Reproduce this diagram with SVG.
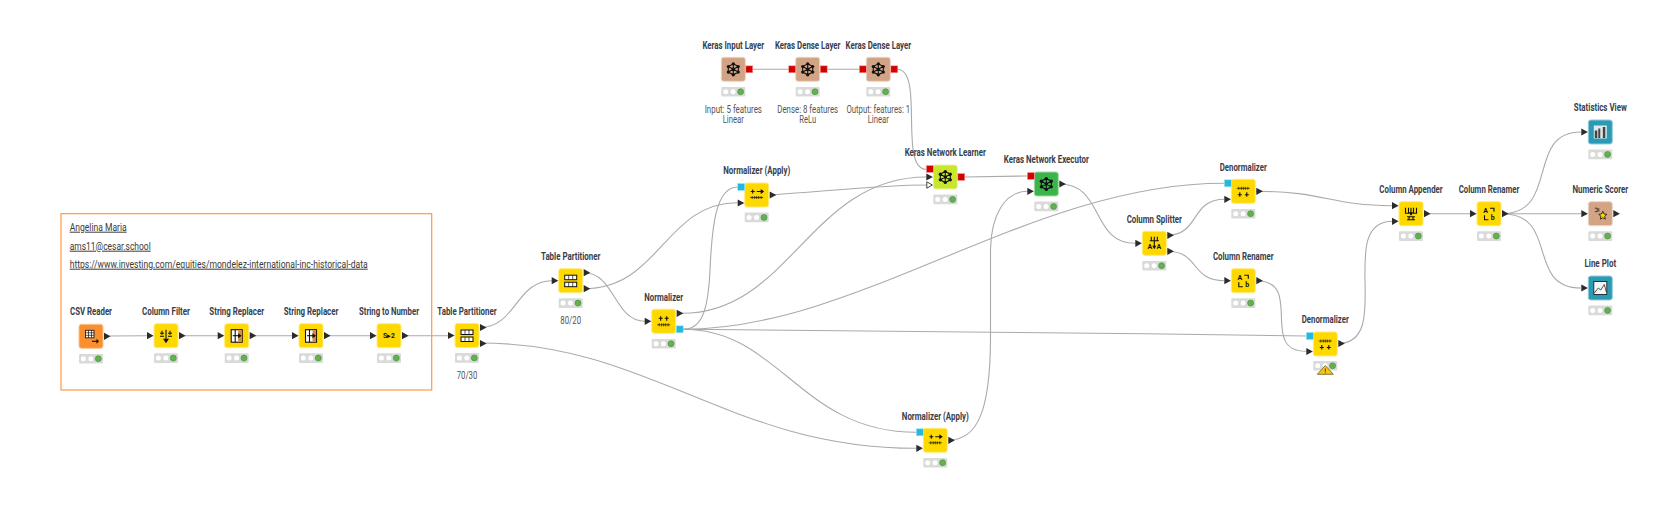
<svg xmlns="http://www.w3.org/2000/svg" xmlns:xlink="http://www.w3.org/1999/xlink" width="1670" height="512" viewBox="0 0 1670 512">
<style>
.bg{fill:#fff}
.conn path{fill:none;stroke:#aaa;stroke-width:1.1}
.body{stroke-width:1;rx:2.5;ry:2.5}
.y{fill:#ffd800;stroke:#ffec7a}
.o{fill:#f98f2d;stroke:#fdc48c}
.t{fill:#d2a384;stroke:#ecd4c4}
.l{fill:#c9e52e;stroke:#e6f49a}
.g{fill:#3cb44b;stroke:#9fdca6}
.b{fill:#2a9ab5;stroke:#95cdda}
.lab{font:700 10px Roboto,"Liberation Sans",sans-serif;fill:#37404a;text-anchor:middle}
.ann{font:400 10px Roboto,"Liberation Sans",sans-serif;fill:#555;text-anchor:middle}
.note{font:400 10px Roboto,"Liberation Sans",sans-serif;fill:#3a3a3a;text-decoration:underline}
.ico{fill:none;stroke:#111;stroke-width:1.1}
.icn{fill:none;stroke:#111;stroke-width:.7}
.icf{fill:#111;stroke:none}
.ict{font:700 7px Roboto,"Liberation Sans",sans-serif;fill:#111;text-anchor:middle}
</style>
<defs>
<polygon id="arr" points="0,-3.6 6.6,0 0,3.6" fill="#2b2b2b"/>
<polygon id="arrw" points="0,-3.2 5.6,0 0,3.2" fill="#fff" stroke="#2b2b2b" stroke-width="0.9"/>
<rect id="bp" x="0" y="-3.5" width="7" height="7" fill="#22b9de" stroke="#a6e3f2" stroke-width="0.6"/>
<rect id="rp" x="0" y="-3.5" width="7" height="7" fill="#d40000" stroke="#f2a6a6" stroke-width="0.6"/>
<g id="st">
<rect x="0" y="0" width="24" height="9.6" rx="1" fill="#d9dbd9"/>
<circle cx="4.4" cy="4.8" r="2.5" fill="#fff"/>
<circle cx="11.8" cy="4.8" r="2.5" fill="#fff"/>
<circle cx="19.3" cy="4.8" r="3" fill="#62b350" stroke="#468a38" stroke-width="0.6"/>
</g>
<g id="ker">
<path class="ico" d="M12 6.5L17 9.2V14.8L12 17.5L7 14.8V9.2ZM12 6.5V17.5M7 9.2L17 14.8M17 9.2L7 14.8"/>
<g class="icf"><circle cx="12" cy="6.5" r="1.6"/><circle cx="17" cy="9.2" r="1.6"/><circle cx="17" cy="14.8" r="1.6"/><circle cx="12" cy="17.5" r="1.6"/><circle cx="7" cy="14.8" r="1.6"/><circle cx="7" cy="9.2" r="1.6"/><circle cx="12" cy="12" r="1.8"/></g>
</g>
<g id="tp">
<rect x="6" y="6.500" width="12" height="4.500" fill="#fff" stroke="#111" stroke-width="1"/>
<rect x="6" y="13.500" width="12" height="4.500" fill="#fff" stroke="#111" stroke-width="1"/>
<path class="icn" d="M10 6.500V11M14 6.500V11M10 13.500V18M14 13.500V18"/>
</g>
<g id="sr">
<rect x="6.500" y="6" width="11" height="12.500" fill="#fff" stroke="#111" stroke-width="1.1"/>
<rect x="13.500" y="6.500" width="3.600" height="11.500" fill="#d98b3a"/>
<path class="ico" d="M10.500 6V18.500"/>
<path class="ico" d="M8 12H14.500"/><polygon class="icf" points="13.500,9.500 17,12 13.500,14.500"/>
</g>
<g id="norm">
<path class="icn" d="M5.500 15.500H18.500M7.500 14V17M10 14V17M12 14V17M14 14V17M16.500 14V17"/>
<path class="ico" d="M9 7V11.500M7 9H11M15 7V11.500M13 9H17"/>
</g>
<g id="nap">
<path class="icn" d="M5.500 14.500H18.500M7.500 13V16M10 13V16M12 13V16M14 13V16M16.500 13V16"/>
<path class="ico" d="M8 6.500V10.500M6 8.500H10M12 8.500H17"/>
<polygon class="icf" points="16,6 19.500,8.500 16,11"/>
</g>
<g id="den">
<path class="icn" d="M5.500 9H18.500M7.500 7.500V10.500M10 7.500V10.500M12 7.500V10.500M14 7.500V10.500M16.500 7.500V10.500"/>
<path class="ico" d="M8.500 13V17.500M6.500 15.500H10.500M15.500 13V17.500M13.500 15.500H17.500"/>
</g>
</defs>
<rect class="bg" width="1670" height="512"/>

<g id="connectors" class="conn">
<path d="M110 336L147 335.700"/>
<path d="M179 335.700H217.700"/>
<path d="M249.700 335.700H292"/>
<path d="M324 335.700H370"/>
<path d="M402 335.700H448"/>
<path d="M480 327.500C516 327.500 516 280.700 552 280.700"/>
<path d="M480 343C650 343 730 448.300 916.300 448.300"/>
<path d="M584 272.700C615 272.700 614 321.300 645 321.300"/>
<path d="M584 288.700C660 288.700 665 202.700 737.700 202.700"/>
<path d="M682 313.300C790 313.300 810 177 926.500 177"/>
<path d="M683 329.300C700 329.300 708 315 710 270C712 225 716 187 737.700 187"/>
<path d="M683 329.300C860 329.300 1030 183.300 1224 183.300"/>
<path d="M683 329.300C900 330 1100 333 1306 336"/>
<path d="M683 329.300C780 329.300 800 432.300 916.300 432.300"/>
<path d="M769.700 195C820 192 880 185 926.500 185"/>
<path d="M948 440.300C978 440.300 990 410 990.500 340V250C991 215 1005 191.300 1027.500 191.300"/>
<path d="M745.300 69.300H795.700"/>
<path d="M819.700 69.300H866.300"/>
<path d="M897 69.300C925 69.300 898 169.300 926.300 169.300"/>
<path d="M964 177L1027 176"/>
<path d="M1059 184C1105 184 1090 243.300 1135.500 243.300"/>
<path d="M1167 235.300C1200 235.300 1190 199.300 1224.500 199.300"/>
<path d="M1167 251.300C1200 251.300 1190 280.700 1224.500 280.700"/>
<path d="M1256 191.300C1325 191.300 1330 205.700 1392.500 205.700"/>
<path d="M1256 280.700C1305 280.700 1258 351.300 1306 351.300"/>
<path d="M1338 343.500C1395 343.500 1335 221.300 1392.500 221.300"/>
<path d="M1424 213.700H1470"/>
<path d="M1502 213.700C1560 213.700 1525 132 1581 132"/>
<path d="M1502 213.700H1581"/>
<path d="M1502 213.700C1560 213.700 1525 288 1581 288"/>
</g>

<g id="annotation">
<rect x="61" y="213.700" width="370.700" height="176.300" fill="none" stroke="#ff9a3c" stroke-width="1.2"/>
<text class="note" x="69.700" y="230.700" textLength="57" lengthAdjust="spacingAndGlyphs">Angelina Maria</text>
<text class="note" x="69.700" y="249.700" textLength="81" lengthAdjust="spacingAndGlyphs">ams11@cesar.school</text>
<text class="note" x="69.700" y="267.700" textLength="298" lengthAdjust="spacingAndGlyphs">https://www.investing.com/equities/mondelez-international-inc-historical-data</text>
</g>

<g id="csv-reader" transform="translate(79,324.300)">
<rect class="body o" width="24" height="24"/>
<rect x="6.500" y="6" width="8.500" height="7.500" fill="#fff" stroke="#222" stroke-width="0.9"/><path class="icn" d="M6.500 8.500H15M6.500 11H15M9.500 6V13.500M12.500 6V13.500"/><path class="ico" d="M13 17H18"/><polygon class="icf" points="17.500,14.500 20,17 17.500,19.500"/>
<use href="#arr" x="25" y="12"/>
<use href="#st" y="29.600"/>
<text class="lab" x="12" y="-9" textLength="42" lengthAdjust="spacingAndGlyphs">CSV Reader</text>
</g>
<g id="column-filter" transform="translate(154,323.700)">
<rect class="body y" width="24" height="24"/>
<path class="ico" d="M6 9.500H10M6 12.500H10M14 9.500H18M14 12.500H18M8 7V11M16 7V11M12 6V16"/><polygon class="icf" points="9,15 15,15 12,19.500"/>
<use href="#arr" x="-7" y="12"/><use href="#arr" x="25" y="12"/>
<use href="#st" y="29.600"/>
<text class="lab" x="12" y="-8.700" textLength="48" lengthAdjust="spacingAndGlyphs">Column Filter</text>
</g>
<g id="string-replacer-1" transform="translate(224.700,323.700)">
<rect class="body y" width="24" height="24"/><use href="#sr"/>
<use href="#arr" x="-7" y="12"/><use href="#arr" x="25" y="12"/>
<use href="#st" y="29.600"/>
<text class="lab" x="12" y="-8.700" textLength="54.700" lengthAdjust="spacingAndGlyphs">String Replacer</text>
</g>
<g id="string-replacer-2" transform="translate(299,323.700)">
<rect class="body y" width="24" height="24"/><use href="#sr"/>
<use href="#arr" x="-7" y="12"/><use href="#arr" x="25" y="12"/>
<use href="#st" y="29.600"/>
<text class="lab" x="12" y="-8.700" textLength="54.700" lengthAdjust="spacingAndGlyphs">String Replacer</text>
</g>
<g id="string-to-number" transform="translate(377,323.700)">
<rect class="body y" width="24" height="24"/>
<text class="ict" x="12" y="14.800" textLength="12" lengthAdjust="spacingAndGlyphs">S▸2</text>
<use href="#arr" x="-7" y="12"/><use href="#arr" x="25" y="12"/>
<use href="#st" y="29.600"/>
<text class="lab" x="12" y="-8.700" textLength="60" lengthAdjust="spacingAndGlyphs">String to Number</text>
</g>
<g id="table-partitioner-1" transform="translate(455,323.500)">
<rect class="body y" width="24" height="24"/><use href="#tp"/>
<use href="#arr" x="-7" y="12"/><use href="#arr" x="25" y="4"/><use href="#arr" x="25" y="20"/>
<use href="#st" y="29.600"/>
<text class="lab" x="12" y="-8.700" textLength="59.300" lengthAdjust="spacingAndGlyphs">Table Partitioner</text>
<text class="ann" x="12" y="55.200" textLength="20.700" lengthAdjust="spacingAndGlyphs">70/30</text>
</g>
<g id="table-partitioner-2" transform="translate(558.700,268.700)">
<rect class="body y" width="24" height="24"/><use href="#tp"/>
<use href="#arr" x="-7" y="12"/><use href="#arr" x="25" y="4"/><use href="#arr" x="25" y="20"/>
<use href="#st" y="29.600"/>
<text class="lab" x="12" y="-8.700" textLength="59.300" lengthAdjust="spacingAndGlyphs">Table Partitioner</text>
<text class="ann" x="12" y="55.200" textLength="20.700" lengthAdjust="spacingAndGlyphs">80/20</text>
</g>
<g id="normalizer" transform="translate(651.700,309.300)">
<rect class="body y" width="24" height="24"/><use href="#norm"/>
<use href="#arr" x="-7" y="12"/><use href="#arr" x="25" y="4"/><use href="#bp" x="24.500" y="20"/>
<use href="#st" y="29.600"/>
<text class="lab" x="12" y="-8.700" textLength="39" lengthAdjust="spacingAndGlyphs">Normalizer</text>
</g>
<g id="normalizer-apply-1" transform="translate(744.700,183)">
<rect class="body y" width="24" height="24"/><use href="#nap"/>
<use href="#bp" x="-7" y="4"/><use href="#arr" x="-7" y="20"/><use href="#arr" x="25" y="12"/>
<use href="#st" y="29.600"/>
<text class="lab" x="12" y="-8.700" textLength="67" lengthAdjust="spacingAndGlyphs">Normalizer (Apply)</text>
</g>
<g id="normalizer-apply-2" transform="translate(923.300,428.300)">
<rect class="body y" width="24" height="24"/><use href="#nap"/>
<use href="#bp" x="-7" y="4"/><use href="#arr" x="-7" y="20"/><use href="#arr" x="25" y="12"/>
<use href="#st" y="29.600"/>
<text class="lab" x="12" y="-8.700" textLength="67" lengthAdjust="spacingAndGlyphs">Normalizer (Apply)</text>
</g>
<g id="keras-input" transform="translate(721.300,57.300)">
<rect class="body t" width="24" height="24"/><use href="#ker"/>
<use href="#rp" x="24.500" y="12"/>
<use href="#st" y="29.600"/>
<text class="lab" x="12" y="-8.700" textLength="61.700" lengthAdjust="spacingAndGlyphs">Keras Input Layer</text>
<text class="ann" x="12" y="55.400" textLength="57.300" lengthAdjust="spacingAndGlyphs">Input: 5 features</text>
<text class="ann" x="12" y="66" textLength="21.300" lengthAdjust="spacingAndGlyphs">Linear</text>
</g>
<g id="keras-dense-1" transform="translate(795.700,57.300)">
<rect class="body t" width="24" height="24"/><use href="#ker"/>
<use href="#rp" x="-7" y="12"/><use href="#rp" x="24.500" y="12"/>
<use href="#st" y="29.600"/>
<text class="lab" transform="translate(12,-8.700) scale(.787,1)">Keras Dense Layer</text>
<text class="ann" transform="translate(12,55.400) scale(.786,1)">Dense: 8 features</text>
<text class="ann" x="12" y="66" textLength="16.700" lengthAdjust="spacingAndGlyphs">ReLu</text>
</g>
<g id="keras-dense-2" transform="translate(866.300,57.300)">
<rect class="body t" width="24" height="24"/><use href="#ker"/>
<use href="#rp" x="-7" y="12"/><use href="#rp" x="24.500" y="12"/>
<use href="#st" y="29.600"/>
<text class="lab" transform="translate(12,-8.700) scale(.787,1)">Keras Dense Layer</text>
<text class="ann" transform="translate(12,55.400) scale(.778,1)">Output: features: 1</text>
<text class="ann" x="12" y="66" textLength="21.300" lengthAdjust="spacingAndGlyphs">Linear</text>
</g>
<g id="keras-learner" transform="translate(933.300,165)">
<rect class="body l" width="24" height="24"/><use href="#ker"/>
<use href="#rp" x="-7" y="4"/><use href="#arr" x="-7" y="12"/><use href="#arrw" x="-6.500" y="20"/>
<use href="#rp" x="24.500" y="12"/>
<use href="#st" y="29.600"/>
<text class="lab" x="12" y="-8.700" textLength="81.300" lengthAdjust="spacingAndGlyphs">Keras Network Learner</text>
</g>
<g id="keras-executor" transform="translate(1034.300,172)">
<rect class="body g" width="24" height="24"/><use href="#ker"/>
<use href="#rp" x="-7" y="4"/><use href="#arr" x="-7" y="19.300"/><use href="#arr" x="25" y="12"/>
<use href="#st" y="29.600"/>
<text class="lab" x="12" y="-8.700" textLength="85" lengthAdjust="spacingAndGlyphs">Keras Network Executor</text>
</g>
<g id="denormalizer-1" transform="translate(1231.300,179.300)">
<rect class="body y" width="24" height="24"/><use href="#den"/>
<use href="#bp" x="-7" y="4"/><use href="#arr" x="-7" y="20"/><use href="#arr" x="25" y="12"/>
<use href="#st" y="29.600"/>
<text class="lab" x="12" y="-8.700" textLength="47" lengthAdjust="spacingAndGlyphs">Denormalizer</text>
</g>
<g id="column-splitter" transform="translate(1142.300,231.300)">
<rect class="body y" width="24" height="24"/>
<path class="ico" d="M7.500 9.500H16.500M9 5.500V9.500M12 5.500V9.500M15 5.500V9.500M12 10V16"/><polygon class="icf" points="10,14.500 14,14.500 12,18"/>
<text class="ict" x="7.500" y="18">A</text><text class="ict" x="16.500" y="18">A</text>
<use href="#arr" x="-7" y="12"/><use href="#arr" x="25" y="4"/><use href="#arr" x="25" y="20"/>
<use href="#st" y="29.600"/>
<text class="lab" x="12" y="-8.700" textLength="55.300" lengthAdjust="spacingAndGlyphs">Column Splitter</text>
</g>
<g id="column-renamer-1" transform="translate(1231.300,268.700)">
<rect class="body y" width="24" height="24"/>
<text class="ict" x="8.500" y="11.500">A</text><text class="ict" x="15.800" y="18.500">b</text>
<path class="ico" d="M13 6.500H17V10M7.500 13.500V18H11.500"/>
<use href="#arr" x="-7" y="12"/><use href="#arr" x="25" y="12"/>
<use href="#st" y="29.600"/>
<text class="lab" x="12" y="-8.700" textLength="60.700" lengthAdjust="spacingAndGlyphs">Column Renamer</text>
</g>
<g id="denormalizer-2" transform="translate(1313.300,332)">
<rect class="body y" width="24" height="24"/><use href="#den"/>
<use href="#bp" x="-7" y="4"/><use href="#arr" x="-7" y="19.500"/><use href="#arr" x="25" y="11.500"/>
<use href="#st" y="29"/>
<polygon points="12,33.500 20,42.300 4,42.300" fill="#f5c518" stroke="#6b5b1e" stroke-width="0.8"/>
<path d="M12 36.500V39.700M12 40.500V41.400" stroke="#3a3208" stroke-width="0.9" fill="none"/>
<text class="lab" x="12" y="-8.700" textLength="47" lengthAdjust="spacingAndGlyphs">Denormalizer</text>
</g>
<g id="column-appender" transform="translate(1399,201.700)">
<rect class="body y" width="24" height="24"/>
<path class="ico" d="M6.500 6V11.500H9.500V6M14.500 6V11.500H17.500V6M12 6V12M8 15H16M8 18H16M10 15V18M14 15V18"/><polygon class="icf" points="9.500,10.500 14.500,10.500 12,14"/>
<use href="#arr" x="-7" y="4"/><use href="#arr" x="-7" y="19.600"/><use href="#arr" x="25" y="12"/>
<use href="#st" y="29.600"/>
<text class="lab" x="12" y="-8.700" textLength="63.300" lengthAdjust="spacingAndGlyphs">Column Appender</text>
</g>
<g id="column-renamer-2" transform="translate(1477,201.700)">
<rect class="body y" width="24" height="24"/>
<text class="ict" x="8.500" y="11.500">A</text><text class="ict" x="15.800" y="18.500">b</text>
<path class="ico" d="M13 6.500H17V10M7.500 13.500V18H11.500"/>
<use href="#arr" x="-7" y="12"/><use href="#arr" x="25" y="12"/>
<use href="#st" y="29.600"/>
<text class="lab" x="12" y="-8.700" textLength="60.700" lengthAdjust="spacingAndGlyphs">Column Renamer</text>
</g>
<g id="statistics-view" transform="translate(1588.300,120)">
<rect class="body b" width="24" height="24"/>
<rect x="5.500" y="5.500" width="13" height="13" fill="#dfe9ec"/>
<path d="M6.500 10.500h2.500v7.500h-2.500zM10 8.500h2v9.500h-2zM14.500 7h2.500v11h-2.500z" fill="#444"/>
<use href="#arr" x="-7" y="12"/>
<use href="#st" y="29.600"/>
<text class="lab" x="12" y="-8.700" textLength="53" lengthAdjust="spacingAndGlyphs">Statistics View</text>
</g>
<g id="numeric-scorer" transform="translate(1588.300,201.700)">
<rect class="body t" width="24" height="24"/>
<polygon points="14.500,9.500 15.700,12.300 18.500,12.600 16.400,14.500 17,17.500 14.500,16 12,17.500 12.600,14.500 10.500,12.600 13.300,12.300" fill="#ffd800" stroke="#111" stroke-width="0.8"/>
<path class="icn" d="M6.500 6.500H9V10H6.500M10.500 6.500V10"/>
<use href="#arr" x="-7" y="12"/><use href="#arr" x="25" y="12"/>
<use href="#st" y="29.600"/>
<text class="lab" x="12" y="-8.700" textLength="55.700" lengthAdjust="spacingAndGlyphs">Numeric Scorer</text>
</g>
<g id="line-plot" transform="translate(1588.300,276)">
<rect class="body b" width="24" height="24"/>
<rect x="5.500" y="5.500" width="13" height="13" fill="#f2f7f8" stroke="#222" stroke-width="0.9"/>
<path class="icn" d="M6 17L10 12L12.500 14L16 8.500L18 16"/>
<use href="#arr" x="-7" y="12"/>
<use href="#st" y="29.600"/>
<text class="lab" x="12" y="-8.700" textLength="31.700" lengthAdjust="spacingAndGlyphs">Line Plot</text>
</g>
</svg>
